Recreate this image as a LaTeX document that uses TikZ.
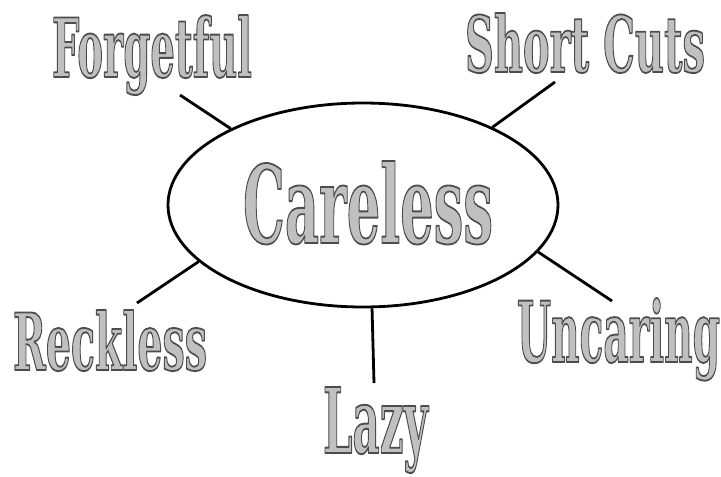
\documentclass[tikz,border=0pt]{standalone}
\usepackage{fontspec}
\setmainfont{DejaVu Serif}
\usepackage{graphicx}
\usetikzlibrary{shapes.geometric}
\definecolor{txtfill}{HTML}{C0C0C0}
\newcommand{\mylbl}[4]{\resizebox{#1pt}{#2pt}{\fontsize{#3}{#3}\selectfont\bfseries\color{txtfill}\special{pdf:literal direct 0.3 G 2 Tr 1.8 w 1 j}#4\special{pdf:literal direct 0 Tr}}}
\tikzset{
  conn/.style={line width=2.8pt, black},
  lbl/.style={anchor=base west, inner sep=0pt, outer sep=0pt}
}
\begin{document}
\begin{tikzpicture}[x=1pt,y=-1pt]
\path[use as bounding box, fill=white] (0,0) rectangle (721,477);
\node[draw, ellipse, line width=2.8pt, minimum width=390pt, minimum height=204pt, inner sep=0pt] (c) at (363,205) {};
\node[lbl] (careless) at (243,243) {\mylbl{250}{82}{106}{Careless}};
\node[lbl] (forg) at (52,77) {\mylbl{200}{62}{80}{Forgetful}};
\node[lbl] (short) at (465,72) {\mylbl{240}{59}{78}{Short Cuts}};
\node[lbl] (reck) at (13,370) {\mylbl{194}{60}{78}{Reckless}};
\node[lbl] (lazy) at (323,453) {\mylbl{105}{66}{86}{Lazy}};
\node[lbl] (unc) at (517,362) {\mylbl{203}{64}{84}{Uncaring}};
\coordinate (e1) at (180,95);
\coordinate (e2) at (555,82);
\coordinate (e3) at (137,303);
\coordinate (e4) at (374,383);
\coordinate (e5) at (612,301);
\draw[conn] (c.150.3) -- (e1);
\draw[conn] (c.31) -- (e2);
\draw[conn] (c.199) -- (e3);
\draw[conn] (c.275) -- (e4);
\draw[conn] (c.345) -- (e5);
\end{tikzpicture}
\end{document}
